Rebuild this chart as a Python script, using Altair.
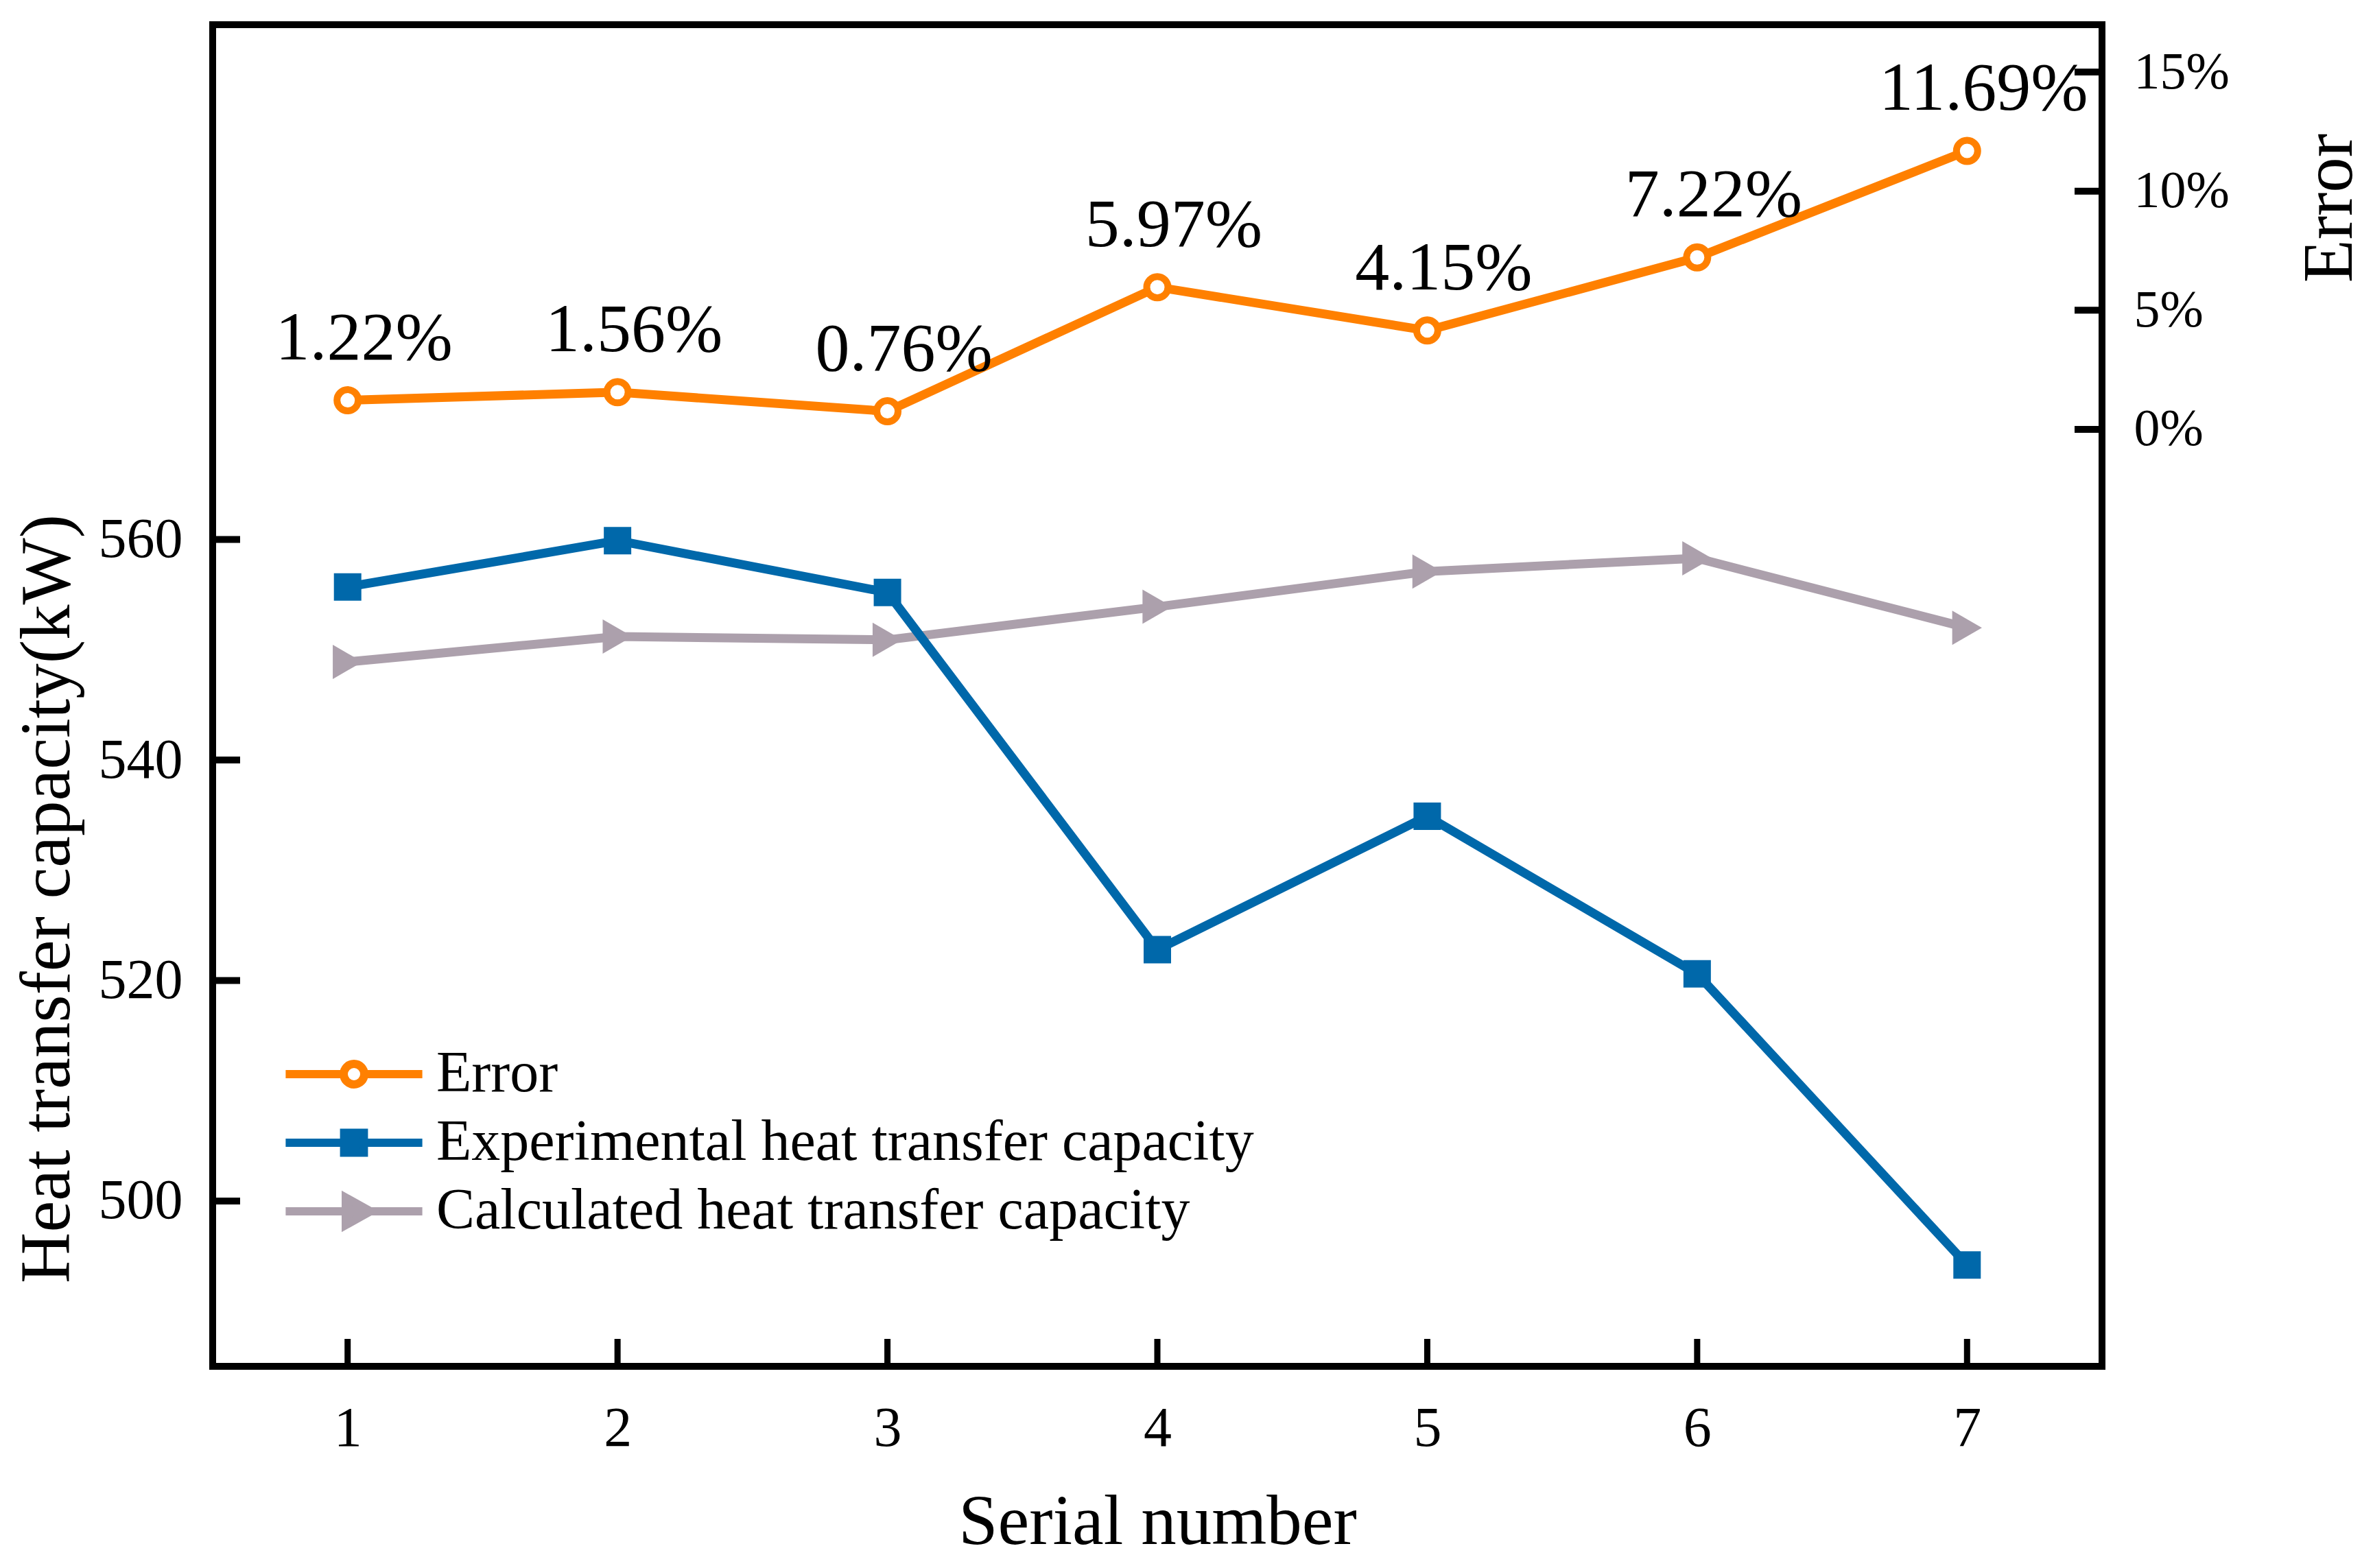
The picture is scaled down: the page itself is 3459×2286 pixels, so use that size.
import altair as alt
import pandas as pd

# values
SERIAL = [1, 2, 3, 4, 5, 6, 7]
ERROR = [1.22, 1.56, 0.76, 5.97, 4.15, 7.22, 11.69]
EXPERIMENTAL = [555.7, 559.9, 555.2, 522.8, 534.9, 520.6, 494.2]
CALCULATED = [548.9, 551.2, 550.9, 553.9, 557.1, 558.3, 552.0]

X_TICKS = [1, 2, 3, 4, 5, 6, 7]
LEFT_TICKS = [500, 520, 540, 560]
RIGHT_TICKS = [0, 5, 10, 15]

SERIES = ["Error", "Experimental heat transfer capacity", "Calculated heat transfer capacity"]
ORANGE, BLUE, GRAY = "#FF8000", "#0068AA", "#ACA0AC"

FONT = "Liberation Serif"
W, H = 2754, 1956
TICK_LEN = 40

# legend symbols: line with marker, in symbol units
PATHS = [
    "M-2.49,0H-0.375M0.375,0H2.49M-0.375,0A0.375,0.375 0 1,0 0.375,0A0.375,0.375 0 1,0 -0.375,0Z",
    "M-2.49,0H2.49M-0.36,-0.36H0.36V0.36H-0.36Z",
    "M-2.49,0H2.49M-0.3,-0.5L0.6,0L-0.3,0.5Z",
]

df = pd.DataFrame(
    {"serial": SERIAL, "error": ERROR, "experimental": EXPERIMENTAL, "calculated": CALCULATED}
)

x_axis = alt.Axis(
    values=X_TICKS,
    ticks=False,
    domain=False,
    grid=False,
    labelFontSize=82,
    labelPadding=50,
    title="Serial number",
    titleFontSize=103,
    titleFontWeight="normal",
    titleY=258,
    titleBaseline="alphabetic",
)
x_scale = alt.Scale(domain=[0.5, 7.5], nice=False, zero=False)

left_axis = alt.Axis(
    values=LEFT_TICKS,
    ticks=False,
    domain=False,
    grid=False,
    labelFontSize=82,
    labelPadding=44,
    title="Heat transfer capacity(kW)",
    titleFontSize=103,
    titleFontWeight="normal",
    titleAngle=270,
    titleX=-210,
    titleY=1274,
    titleAlign="center",
    titleBaseline="alphabetic",
)
left_scale = alt.Scale(domain=[485, 606.7], nice=False, zero=False)

right_axis = alt.Axis(
    orient="right",
    values=RIGHT_TICKS,
    labelExpr="datum.value + '%'",
    ticks=False,
    domain=False,
    grid=False,
    labelFontSize=76,
    labelPadding=46,
    title="Error",
    titleFontSize=103,
    titleFontWeight="normal",
    titleAngle=270,
    titleX=363,
    titleY=267,
    titleAlign="center",
    titleBaseline="alphabetic",
)
right_scale = alt.Scale(domain=[-39.34, 16.99], nice=False, zero=False)


def xq(field):
    return alt.X(f"{field}:Q", scale=x_scale, axis=x_axis)


def yl(field):
    return alt.Y(f"{field}:Q", scale=left_scale, axis=left_axis)


def yr(field):
    return alt.Y(f"{field}:Q", scale=right_scale, axis=right_axis)


base = alt.Chart(df)

exp_line = base.mark_line(color=BLUE, strokeWidth=13).encode(xq("serial"), yl("experimental"))
exp_pts = base.mark_point(shape="square", filled=True, color=BLUE, size=1600, opacity=1).encode(
    xq("serial"), yl("experimental")
)
calc_line = base.mark_line(color=GRAY, strokeWidth=13).encode(xq("serial"), yl("calculated"))
calc_pts = base.mark_point(
    shape="triangle-right", filled=True, color=GRAY, size=2500, opacity=1
).encode(xq("serial"), yl("calculated"))

x_ticks = (
    alt.Chart(pd.DataFrame({"v": X_TICKS}))
    .mark_rule(color="black", strokeWidth=9)
    .encode(xq("v"), y=alt.value(H), y2=alt.value(H - TICK_LEN))
)
left_ticks = (
    alt.Chart(pd.DataFrame({"v": LEFT_TICKS}))
    .mark_rule(color="black", strokeWidth=10)
    .encode(yl("v"), x=alt.value(0), x2=alt.value(TICK_LEN))
)

err_line = base.mark_line(color=ORANGE, strokeWidth=13).encode(xq("serial"), yr("error"))
err_pts = base.mark_point(
    shape="circle", fill="white", stroke=ORANGE, strokeWidth=10, size=961, opacity=1, filled=False
).encode(xq("serial"), yr("error"))
err_text = (
    base.transform_calculate(label="format(datum.error, '.2f') + '%'")
    .mark_text(font=FONT, fontSize=100, color="black", align="center", baseline="alphabetic", dx=24, dy=-60)
    .encode(xq("serial"), yr("error"), text="label:N")
)
right_ticks = (
    alt.Chart(pd.DataFrame({"v": RIGHT_TICKS}))
    .mark_rule(color="black", strokeWidth=10)
    .encode(yr("v"), x=alt.value(W - TICK_LEN), x2=alt.value(W))
)

legend = alt.Legend(
    orient="none",
    legendX=160,
    legendY=1484,
    title=None,
    padding=0,
    labelFont=FONT,
    labelFontSize=84,
    labelColor="black",
    labelLimit=3000,
    labelOffset=74,
    rowPadding=12,
    symbolSize=6400,
    symbolStrokeWidth=12,
)
legend_layer = (
    alt.Chart(pd.DataFrame({"series": SERIES}))
    .transform_filter("false")
    .mark_point(size=6400, strokeWidth=12, opacity=1)
    .encode(
        shape=alt.Shape("series:N", scale=alt.Scale(domain=SERIES, range=PATHS), legend=legend),
        fill=alt.Fill(
            "series:N", scale=alt.Scale(domain=SERIES, range=["white", BLUE, GRAY]), legend=legend
        ),
        stroke=alt.Stroke("series:N", scale=alt.Scale(domain=SERIES, range=[ORANGE, BLUE, GRAY]), legend=legend),
    )
)

left = alt.layer(calc_line, exp_line, calc_pts, exp_pts, left_ticks, x_ticks)
right = alt.layer(err_line, err_pts, err_text, right_ticks)

chart = (
    alt.layer(left, right, legend_layer)
    .resolve_scale(y="independent")
    .properties(
        width=W,
        height=H,
        autosize=alt.AutoSizeParams(type="none"),
        padding={"left": 302, "top": 28, "right": 387, "bottom": 286},
    )
    .configure(font=FONT)
    .configure_axis(labelFont=FONT, titleFont=FONT, labelColor="black", titleColor="black")
    .configure_view(stroke="black", strokeWidth=10)
)

chart.save("out.html", embed_options={"renderer": "svg", "actions": False})
